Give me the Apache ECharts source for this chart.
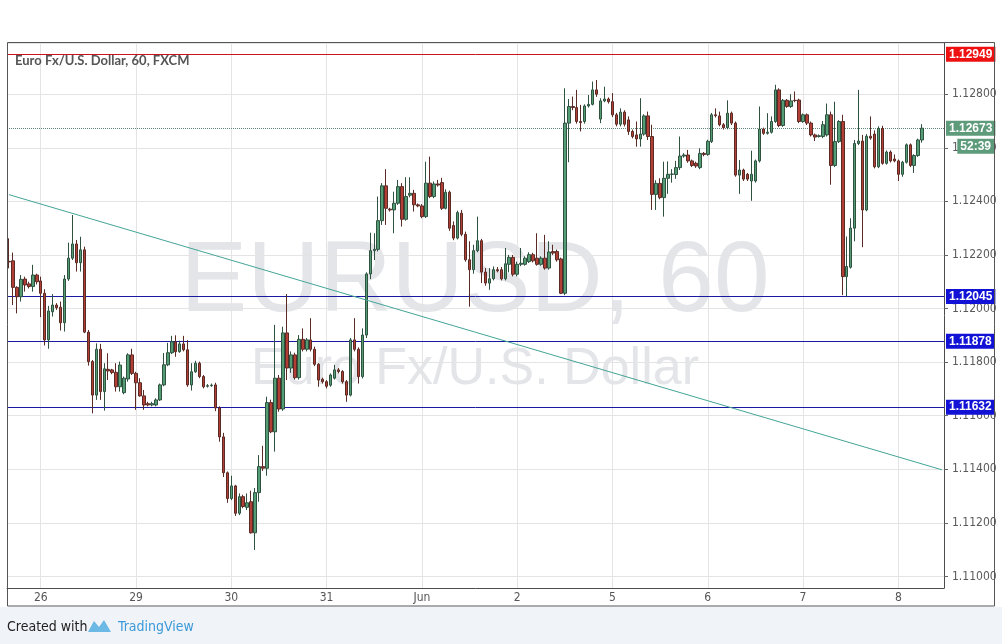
<!DOCTYPE html>
<html>
<head>
<meta charset="utf-8">
<script src="https://cdn.jsdelivr.net/npm/echarts/dist/echarts.min.js"></script>
<style>
html,body{margin:0;padding:0;background:#ffffff;}
#c{width:1002px;height:644px;}
</style>
</head>
<body>
<div id="c"></div>
<script>
// ---- data ----
const dayLabels = ['26','29','30','31','Jun','2','5','6','7','8'];
const firstDayIndex = 8;
const barsPerDay = 24;
const slotCount = 236;
const yRange = [1.10957, 1.12991];

const opens = [
1.12176,1.12178,1.12079,1.12044,1.12110,1.12092,1.12082,1.12125,1.12103,1.12057,
1.11883,1.11988,1.12013,1.12005,1.11947,1.12110,1.12188,1.12241,1.12171,1.12219,
1.11912,1.11802,1.11677,1.11848,1.11690,1.11773,1.11771,1.11762,1.11708,1.11686,
1.11737,1.11827,1.11758,1.11723,1.11674,1.11645,1.11640,1.11640,1.11659,1.11715,
1.11790,1.11835,1.11876,1.11839,1.11868,1.11846,1.11715,1.11764,1.11796,1.11746,
1.11710,1.11712,1.11715,1.11629,1.11521,1.11387,1.11291,1.11338,1.11236,1.11298,
1.11258,1.11279,1.11163,1.11313,1.11410,1.11404,1.11649,1.11540,1.11740,1.11625,
1.11909,1.11778,1.11827,1.11742,1.11885,1.11848,1.11883,1.11848,1.11792,1.11736,
1.11727,1.11714,1.11740,1.11771,1.11765,1.11727,1.11677,1.11883,1.11848,1.11746,
1.11901,1.12129,1.12216,1.12221,1.12328,1.12458,1.12371,1.12368,1.12393,1.12455,
1.12333,1.12423,1.12430,1.12387,1.12383,1.12343,1.12468,1.12418,1.12465,1.12470,
1.12374,1.12434,1.12310,1.12263,1.12356,1.12277,1.12182,1.12145,1.12216,1.12253,
1.12136,1.12095,1.12111,1.12145,1.12145,1.12111,1.12165,1.12191,1.12128,1.12165,
1.12165,1.12175,1.12201,1.12188,1.12165,1.12188,1.12151,1.12213,1.12213,1.12185,
1.12057,1.12692,1.12754,1.12750,1.12698,1.12698,1.12756,1.12762,1.12816,1.12707,
1.12775,1.12782,1.12772,1.12723,1.12688,1.12733,1.12704,1.12661,1.12648,1.12633,
1.12651,1.12719,1.12642,1.12426,1.12467,1.12414,1.12486,1.12501,1.12500,1.12526,
1.12569,1.12573,1.12551,1.12542,1.12526,1.12579,1.12575,1.12623,1.12723,1.12719,
1.12686,1.12675,1.12729,1.12692,1.12498,1.12517,1.12501,1.12476,1.12476,1.12551,
1.12670,1.12654,1.12658,1.12698,1.12816,1.12683,1.12777,1.12754,1.12777,1.12778,
1.12698,1.12723,1.12692,1.12648,1.12642,1.12642,1.12648,1.12723,1.12534,1.12623,
1.12698,1.12119,1.12154,1.12300,1.12616,1.12625,1.12368,1.12643,1.12651,1.12529,
1.12672,1.12542,1.12584,1.12558,1.12551,1.12501,1.12546,1.12611,1.12534,1.12571,
1.12629
];
const closes = [
1.12174,1.12079,1.12044,1.12109,1.12088,1.12082,1.12125,1.12100,1.12057,1.11883,
1.11991,1.12013,1.12003,1.11947,1.12110,1.12188,1.12241,1.12171,1.12219,1.11912,
1.11802,1.11677,1.11848,1.11690,1.11775,1.11767,1.11761,1.11708,1.11789,1.11740,
1.11827,1.11758,1.11723,1.11674,1.11640,1.11640,1.11645,1.11659,1.11715,1.11790,
1.11835,1.11876,1.11839,1.11868,1.11846,1.11715,1.11764,1.11796,1.11746,1.11708,
1.11712,1.11714,1.11629,1.11521,1.11387,1.11291,1.11338,1.11236,1.11298,1.11261,
1.11275,1.11163,1.11313,1.11410,1.11404,1.11649,1.11540,1.11740,1.11625,1.11909,
1.11778,1.11827,1.11742,1.11885,1.11848,1.11883,1.11848,1.11792,1.11733,1.11727,
1.11710,1.11752,1.11771,1.11765,1.11727,1.11677,1.11883,1.11848,1.11746,1.11901,
1.12129,1.12216,1.12221,1.12328,1.12458,1.12374,1.12368,1.12393,1.12455,1.12333,
1.12418,1.12430,1.12387,1.12383,1.12343,1.12468,1.12418,1.12465,1.12461,1.12374,
1.12434,1.12300,1.12263,1.12358,1.12277,1.12182,1.12145,1.12216,1.12253,1.12136,
1.12095,1.12111,1.12145,1.12141,1.12111,1.12167,1.12191,1.12128,1.12165,1.12169,
1.12188,1.12201,1.12178,1.12165,1.12188,1.12151,1.12211,1.12207,1.12182,1.12057,
1.12692,1.12754,1.12750,1.12698,1.12694,1.12756,1.12762,1.12816,1.12800,1.12775,
1.12782,1.12772,1.12723,1.12688,1.12733,1.12688,1.12661,1.12642,1.12633,1.12651,
1.12719,1.12642,1.12426,1.12467,1.12414,1.12486,1.12501,1.12502,1.12526,1.12569,
1.12573,1.12551,1.12534,1.12532,1.12579,1.12575,1.12624,1.12723,1.12720,1.12686,
1.12675,1.12729,1.12692,1.12498,1.12517,1.12483,1.12483,1.12501,1.12551,1.12670,
1.12654,1.12658,1.12698,1.12816,1.12683,1.12777,1.12754,1.12775,1.12776,1.12698,
1.12723,1.12692,1.12648,1.12640,1.12645,1.12686,1.12723,1.12534,1.12623,1.12698,
1.12119,1.12157,1.12300,1.12616,1.12625,1.12368,1.12643,1.12636,1.12529,1.12672,
1.12542,1.12584,1.12551,1.12551,1.12501,1.12546,1.12611,1.12534,1.12571,1.12629,
1.12673
];
const lows = [
1.12150,1.12013,1.11982,1.12026,1.12063,1.12075,1.12063,1.12090,1.11968,1.11862,
1.11850,1.11970,1.11995,1.11918,1.11914,1.12103,1.12181,1.12138,1.12138,1.11908,
1.11787,1.11609,1.11659,1.11659,1.11619,1.11733,1.11755,1.11690,1.11690,1.11680,
1.11727,1.11752,1.11622,1.11671,1.11622,1.11635,1.11635,1.11635,1.11655,1.11710,
1.11785,1.11830,1.11820,1.11835,1.11840,1.11708,1.11694,1.11760,1.11740,1.11702,
1.11705,1.11708,1.11617,1.11503,1.11371,1.11275,1.11285,1.11226,1.11229,1.11255,
1.11248,1.11160,1.11099,1.11279,1.11394,1.11376,1.11535,1.11466,1.11615,1.11618,
1.11733,1.11760,1.11735,1.11735,1.11840,1.11840,1.11840,1.11785,1.11708,1.11720,
1.11702,1.11708,1.11735,1.11758,1.11720,1.11652,1.11672,1.11840,1.11720,1.11739,
1.11890,1.12110,1.12181,1.12213,1.12312,1.12312,1.12362,1.12281,1.12387,1.12306,
1.12328,1.12415,1.12362,1.12378,1.12337,1.12338,1.12412,1.12412,1.12455,1.12368,
1.12370,1.12290,1.12255,1.12258,1.12270,1.12175,1.12007,1.12130,1.12210,1.12095,
1.12085,1.12070,1.12105,1.12135,1.12105,1.12105,1.12135,1.12120,1.12120,1.12158,
1.12160,1.12170,1.12172,1.12160,1.12160,1.12145,1.12145,1.12200,1.12175,1.12054,
1.12050,1.12546,1.12740,1.12690,1.12661,1.12690,1.12750,1.12758,1.12790,1.12692,
1.12770,1.12765,1.12715,1.12680,1.12680,1.12680,1.12648,1.12635,1.12604,1.12604,
1.12645,1.12629,1.12368,1.12368,1.12408,1.12343,1.12428,1.12470,1.12484,1.12517,
1.12563,1.12544,1.12528,1.12525,1.12520,1.12568,1.12570,1.12618,1.12713,1.12680,
1.12668,1.12669,1.12685,1.12492,1.12428,1.12476,1.12476,1.12402,1.12470,1.12545,
1.12648,1.12649,1.12653,1.12693,1.12677,1.12678,1.12749,1.12749,1.12770,1.12692,
1.12693,1.12685,1.12642,1.12625,1.12638,1.12636,1.12642,1.12462,1.12528,1.12618,
1.12050,1.12044,1.12149,1.12251,1.12610,1.12229,1.12363,1.12630,1.12523,1.12524,
1.12537,1.12537,1.12545,1.12546,1.12476,1.12492,1.12541,1.12528,1.12506,1.12566,
1.12619
];
const highs = [
1.12262,1.12209,1.12083,1.12125,1.12119,1.12100,1.12163,1.12130,1.12119,1.12072,
1.12010,1.12054,1.12020,1.12026,1.12125,1.12246,1.12349,1.12256,1.12268,1.12231,
1.11920,1.11808,1.11870,1.11868,1.11796,1.11833,1.11775,1.11796,1.11802,1.11746,
1.11833,1.11850,1.11764,1.11740,1.11696,1.11652,1.11652,1.11665,1.11720,1.11834,
1.11872,1.11898,1.11900,1.11880,1.11898,1.11882,1.11796,1.11805,1.11802,1.11752,
1.11718,1.11720,1.11723,1.11635,1.11536,1.11392,1.11376,1.11342,1.11310,1.11305,
1.11310,1.11320,1.11330,1.11453,1.11488,1.11671,1.11660,1.11939,1.11752,1.11932,
1.12054,1.11840,1.11835,1.11901,1.11926,1.11890,1.11964,1.11858,1.11796,1.11742,
1.11733,1.11758,1.11790,1.11778,1.11770,1.11733,1.11890,1.11964,1.11855,1.11926,
1.12135,1.12283,1.12281,1.12418,1.12468,1.12520,1.12376,1.12436,1.12480,1.12468,
1.12490,1.12490,1.12443,1.12392,1.12390,1.12548,1.12567,1.12474,1.12480,1.12488,
1.12445,1.12440,1.12325,1.12365,1.12368,1.12287,1.12251,1.12238,1.12343,1.12260,
1.12151,1.12151,1.12157,1.12155,1.12155,1.12226,1.12200,1.12200,1.12175,1.12226,
1.12195,1.12210,1.12208,1.12281,1.12195,1.12275,1.12251,1.12238,1.12220,1.12190,
1.12822,1.12782,1.12791,1.12816,1.12760,1.12762,1.12797,1.12847,1.12853,1.12785,
1.12828,1.12788,1.12804,1.12730,1.12747,1.12740,1.12717,1.12668,1.12698,1.12785,
1.12725,1.12735,1.12686,1.12479,1.12486,1.12548,1.12549,1.12520,1.12551,1.12642,
1.12580,1.12592,1.12556,1.12548,1.12598,1.12584,1.12630,1.12730,1.12747,1.12735,
1.12692,1.12777,1.12735,1.12698,1.12554,1.12522,1.12506,1.12589,1.12556,1.12754,
1.12675,1.12729,1.12717,1.12835,1.12822,1.12782,1.12782,1.12800,1.12810,1.12783,
1.12728,1.12728,1.12698,1.12653,1.12650,1.12700,1.12765,1.12735,1.12772,1.12703,
1.12723,1.12269,1.12337,1.12629,1.12816,1.12648,1.12651,1.12717,1.12665,1.12680,
1.12682,1.12590,1.12590,1.12575,1.12556,1.12551,1.12616,1.12616,1.12576,1.12634,
1.12688
];
const resistanceLevel = 1.12949;
const supportLevels = [1.12045, 1.11878, 1.11632];
const lastPrice = 1.12673;
const countdown = '52:39';
const trendValues = [1.12425, 1.11398];
const titleText = 'Euro Fx/U.S. Dollar, 60, FXCM';
const watermarkMain = 'EURUSD, 60';
const watermarkSub = 'Euro Fx/U.S. Dollar';

// ---- build ----
const categories = [];
for (let i = 0; i < slotCount; i++) categories.push('b' + i);
const labelAt = {};
dayLabels.forEach((d, k) => { labelAt[firstDayIndex + k * barsPerDay] = d; });
const isDayStart = (i) => labelAt[i] !== undefined;
const candleData = opens.map((o, i) => [o, closes[i], lows[i], highs[i]]);

const NARROW = "'Liberation Sans Narrow','DejaVu Sans Condensed','Arial Narrow',sans-serif";
const SANS = "'Liberation Sans',Arial,sans-serif";

function priceLabel(bg, txt) {
  return {
    show: true, position: 'end', distance: 2,
    color: '#ffffff', backgroundColor: bg, fontWeight: 'bold',
    fontSize: 12, fontFamily: SANS, padding: [2, 3, 1, 3],
    formatter: txt
  };
}
function levelLine(value, color, type, bg) {
  return {
    type: 'line', data: [], silent: true, z: 7, symbol: 'none',
    markLine: {
      symbol: ['none', 'none'], silent: true, animation: false, precision: 5,
      lineStyle: { color: color, width: 1, type: type, opacity: 1 },
      emphasis: { disabled: true },
      data: [{ yAxis: value, lineStyle: { color: color, width: 1, type: type, opacity: 1 }, label: priceLabel(bg, value.toFixed(5)) }]
    }
  };
}

const chart = echarts.init(document.getElementById('c'), null, { renderer: 'canvas' });

const option = {
  animation: false,
  backgroundColor: '#ffffff',
  grid: { left: 7, top: 43, width: 937, height: 545, show: false, outerBoundsMode: 'none', containLabel: false },
  xAxis: {
    type: 'category', data: categories, boundaryGap: true,
    axisLine: { show: true, lineStyle: { color: '#4d4d4d', width: 1 } },
    axisTick: { show: false, alignWithLabel: true, interval: (i) => isDayStart(i) },
    axisLabel: {
      show: true, interval: (i) => isDayStart(i), formatter: (v, i) => labelAt[i] || '',
      color: '#555555', fontSize: 12, fontFamily: NARROW, margin: 4
    },
    splitLine: { show: true, interval: (i) => isDayStart(i), alignWithLabel: true, lineStyle: { color: '#e4e4e4', width: 1 } }
  },
  yAxis: {
    type: 'value', position: 'right', min: yRange[0], max: yRange[1], scale: true,
    splitNumber: 10, minInterval: 0.002, maxInterval: 0.002,
    axisLine: { show: true, lineStyle: { color: '#4d4d4d', width: 1 } },
    axisTick: { show: true, length: 4, lineStyle: { color: '#666' } },
    axisLabel: {
      formatter: (v) => v.toFixed(5), color: '#5a5a5a', fontSize: 12, fontFamily: NARROW,
      margin: 8, showMinLabel: false, showMaxLabel: false
    },
    splitLine: { show: true, lineStyle: { color: '#e4e4e4', width: 1 } }
  },
  series: [
    {
      type: 'candlestick', name: 'EURUSD', data: candleData, barWidth: 3, z: 5,
      itemStyle: {
        color: '#539c74', color0: '#b23f36',
        borderColor: '#2f5240', borderColor0: '#5a2b25', borderWidth: 1
      }
    },
    {
      type: 'line', name: 'trend', data: [[0, trendValues[0]], [slotCount - 1, trendValues[1]]],
      showSymbol: false, symbol: 'none', silent: true, z: 6,
      lineStyle: { color: '#44a596', width: 1 }
    },
    levelLine(resistanceLevel, '#c8141c', 'solid', '#ee1111'),
    levelLine(lastPrice, '#5e8c7c', 'dotted', '#5d9b7b')
  ].concat(supportLevels.map(v => levelLine(v, '#1a1aa0', 'solid', '#1212d6'))),
  graphic: [
    { type: 'rect', z: -10, silent: true, shape: { x: 0, y: 607, width: 1002, height: 37 }, style: { fill: '#f0f3f7' } },
    { type: 'text', z: -5, silent: true, x: 475, y: 283,
      style: { text: watermarkMain, fill: '#e3e5e9', font: '100px ' + SANS, textAlign: 'center', textVerticalAlign: 'middle', align: 'center', verticalAlign: 'middle' } },
    { type: 'text', z: -5, silent: true, x: 475, y: 370,
      style: { text: watermarkSub, fill: '#e3e5e9', font: '52px ' + SANS, textAlign: 'center', textVerticalAlign: 'middle', align: 'center', verticalAlign: 'middle' } },
    { type: 'text', z: 20, silent: true, x: 15, y: 61,
      style: { text: titleText, fill: '#555555', font: 'bold 13px Lato, sans-serif', textAlign: 'left', textVerticalAlign: 'middle', align: 'left', verticalAlign: 'middle' } },
    { type: 'rect', z: 30, silent: true, shape: { x: 7.5, y: 42.5, width: 987, height: 563.5 }, style: { fill: null, stroke: '#555555', lineWidth: 1 } },
    { type: 'text', z: 20, silent: true, x: 7, y: 627,
      style: { text: 'Created with', fill: '#222222', font: '14px ' + NARROW, textAlign: 'left', textVerticalAlign: 'middle', align: 'left', verticalAlign: 'middle' } },
    { type: 'polygon', z: 20, silent: true,
      shape: { points: [[88, 632], [94, 621], [99, 627], [104, 620], [111, 632]] },
      style: { fill: '#6cb9e6' } },
    { type: 'text', z: 20, silent: true, x: 118, y: 627,
      style: { text: 'TradingView', fill: '#3b9ad9', font: '14px ' + NARROW, textAlign: 'left', textVerticalAlign: 'middle', align: 'left', verticalAlign: 'middle' } }
  ]
};
chart.setOption(option);

const yLast = chart.convertToPixel({ yAxisIndex: 0 }, lastPrice);
chart.setOption({
  graphic: option.graphic.concat([
    { type: 'text', z: 40, silent: true, x: 994, y: yLast + 18,
      style: { text: countdown, fill: '#ffffff', font: 'bold 12px ' + SANS, backgroundColor: '#5d9b7b', padding: [2, 3, 1, 3],
        textAlign: 'right', textVerticalAlign: 'middle', align: 'right', verticalAlign: 'middle' } }
  ])
}, { replaceMerge: ['graphic'] });
</script>
</body>
</html>
